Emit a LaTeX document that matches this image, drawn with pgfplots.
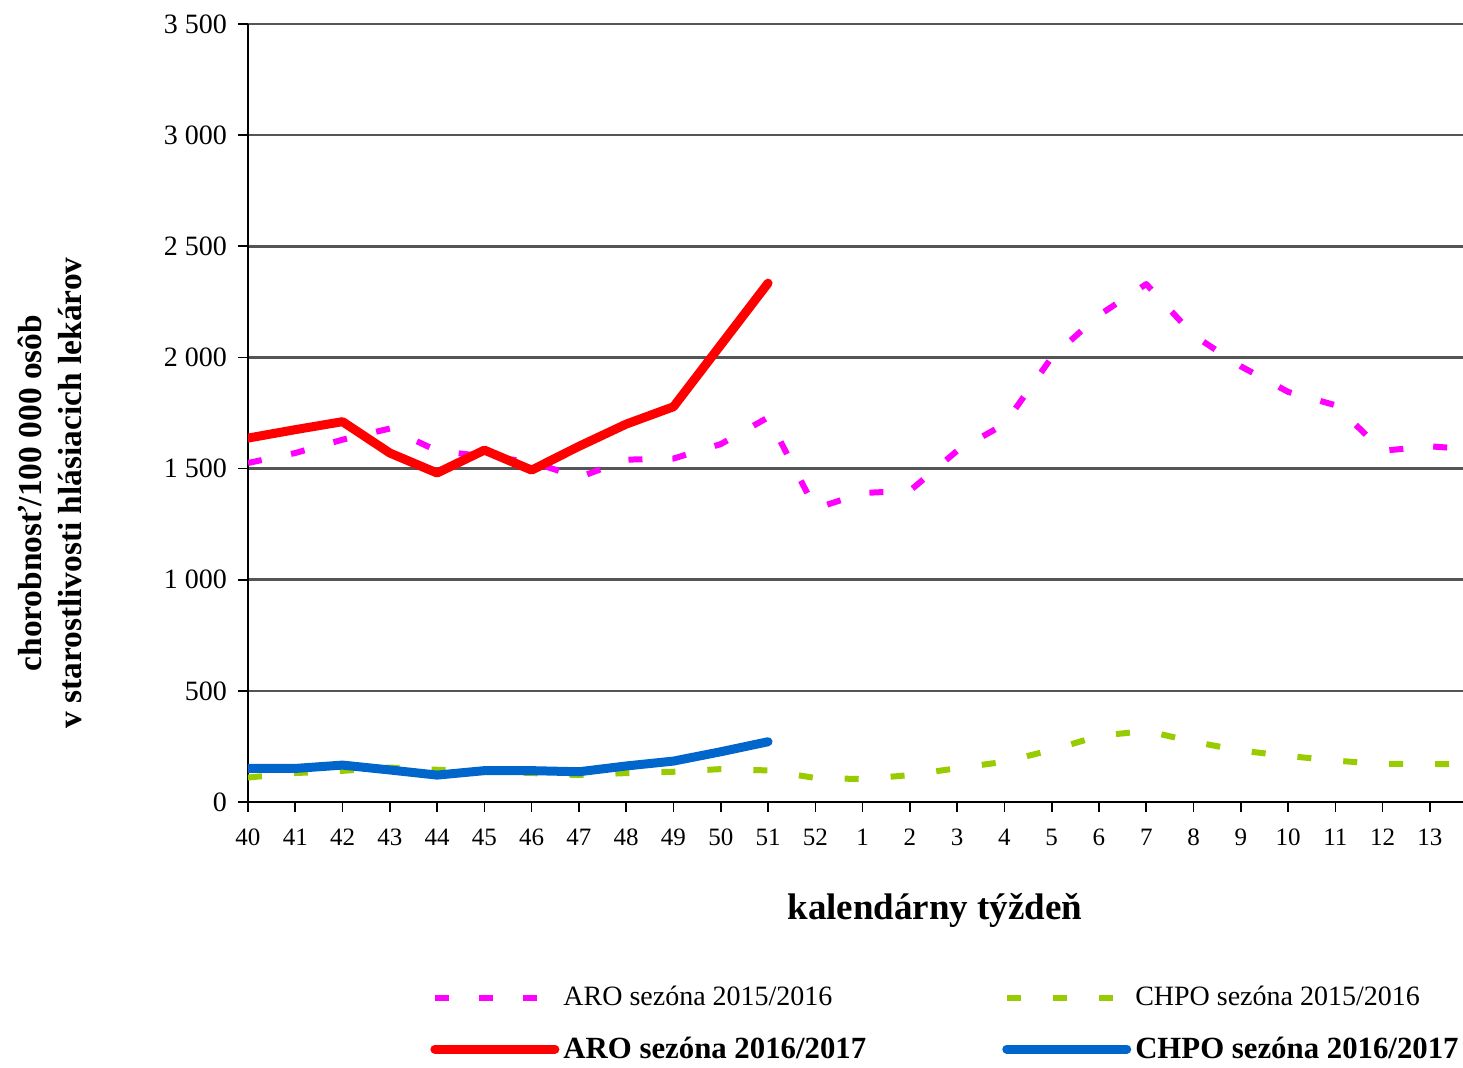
\documentclass[border=0pt]{standalone}
\usepackage{fontspec}
\setmainfont{Liberation Serif}
\usepackage{pgfplots}
\pgfplotsset{compat=1.18}
\definecolor{aro15}{RGB}{255,0,255}
\definecolor{chpo15}{RGB}{153,204,0}
\definecolor{aro16}{RGB}{255,0,0}
\definecolor{chpo16}{RGB}{0,102,204}
\definecolor{gridc}{RGB}{85,85,85}
\begin{document}
\begin{tikzpicture}
\begin{axis}[
  scale only axis, width=607.5pt, height=389pt,
  xmin=0, xmax=25.7, ymin=0, ymax=3500,
  axis lines*=left,
  axis line style={black, line width=1pt},
  tick align=outside, major tick length=5pt,
  tick style={black, line width=0.8pt},
  xtick={0,...,25},
  xticklabels={40,41,42,43,44,45,46,47,48,49,50,51,52,1,2,3,4,5,6,7,8,9,10,11,12,13},
  ytick={0,500,1000,1500,2000,2500,3000,3500},
  scaled y ticks=false,
  /pgf/number format/1000 sep={\ },
  /pgf/number format/assume math mode=true,
  ymajorgrids, grid style={gridc, line width=1.3pt},
  yticklabel style={font=\fontsize{14}{16}\selectfont, xshift=-2pt},
  xticklabel style={font=\fontsize{12.5}{15}\selectfont, yshift=-5pt},
  xlabel={kalendárny týždeň},
  xlabel style={font=\fontsize{18.5}{22}\selectfont\bfseries, at={(axis description cs:0.5654,0)}, anchor=north, yshift=-42pt},
  ylabel={chorobnosť/100 000 osôb\\v starostlivosti hlásiacich lekárov},
  ylabel style={font=\fontsize{16.7}{20}\selectfont\bfseries, align=center, at={(axis description cs:0,0.397)}, anchor=center, yshift=99pt},
  legend columns=2,
  legend cell align=left,
  legend image code/.code={\draw[#1] (0pt,0pt) -- (60pt,0pt);},
  legend style={draw=none, fill=none, at={(axis description cs:0,0)}, anchor=north west, xshift=88pt, yshift=-88pt,
    font=\fontsize{14}{16}\selectfont, row sep=10pt,
    /tikz/every even column/.append style={column sep=66pt}},
  line join=round,
]
\addplot[aro15, line width=3pt, dash pattern=on 7pt off 15pt] coordinates {
(0,1525) (1,1570) (2,1630) (3,1680) (4,1580) (5,1555) (6,1530) (7,1460) (8,1540) (9,1545) (10,1610) (11,1730) (12,1320)
(13,1390) (14,1400) (15,1580) (16,1700) (17,2000) (18,2190) (19,2330) (20,2100) (21,1960) (22,1845) (23,1785) (24,1580) (25,1600) (26,1585)};
\addlegendentry{ARO sezóna 2015/2016}
\addplot[chpo15, line width=3pt, dash pattern=on 7pt off 16pt] coordinates {
(0,110) (1,130) (2,140) (3,155) (4,145) (5,140) (6,130) (7,121) (8,130) (9,136) (10,148) (11,142) (12,108)
(13,103) (14,121) (15,152) (16,181) (17,234) (18,297) (19,320) (20,271) (21,231) (22,207) (23,186) (24,171) (25,171) (26,170)};
\addlegendentry{CHPO sezóna 2015/2016}
\addplot[aro16, line width=4.5pt, line cap=round] coordinates {
(0,1637) (1,1675) (2,1711) (3,1570) (4,1480) (5,1583) (6,1493) (7,1600) (8,1700) (9,1778) (10,2056) (11,2334)};
\addlegendentry{\fontsize{15.4}{16}\selectfont\bfseries ARO sezóna 2016/2017}
\addplot[chpo16, line width=4.5pt, line cap=round] coordinates {
(0,151) (1,151) (2,166) (3,144) (4,121) (5,141) (6,141) (7,136) (8,162) (9,184) (10,226) (11,271)};
\addlegendentry{\fontsize{15.4}{16}\selectfont\bfseries CHPO sezóna 2016/2017}
\end{axis}
\pgfresetboundingbox
\path (-124pt,-133pt) rectangle (607.5pt,401pt);
\end{tikzpicture}
\end{document}
